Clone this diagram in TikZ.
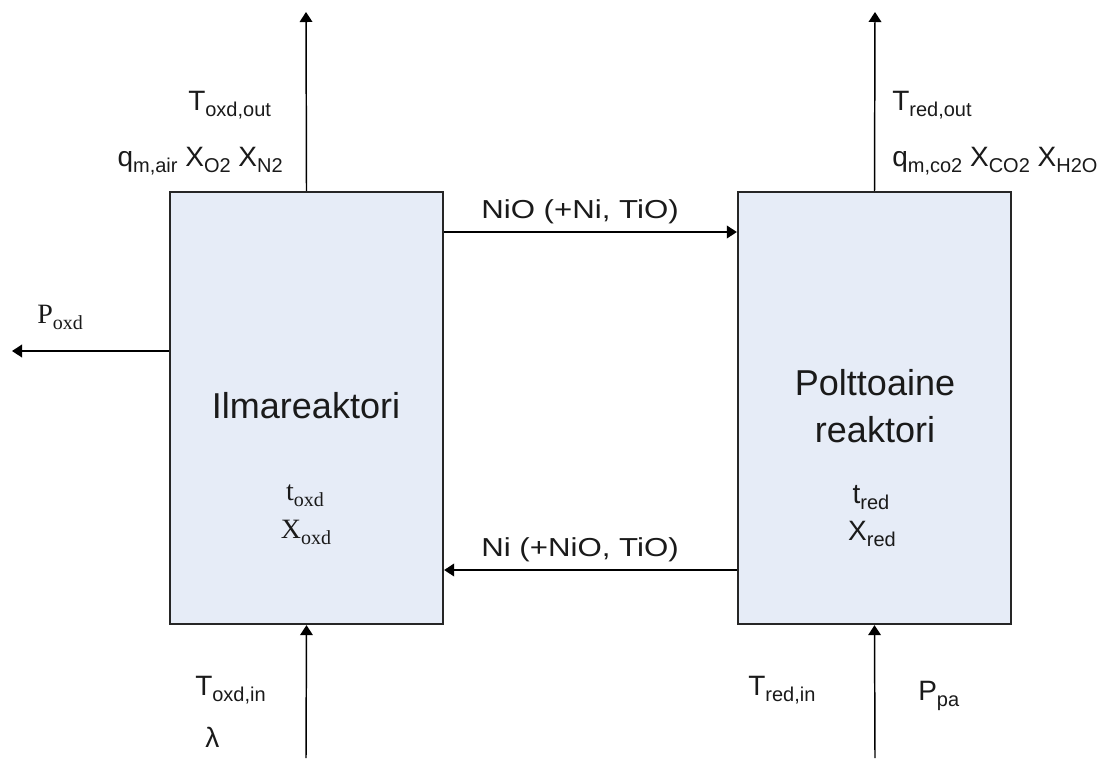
\documentclass[tikz,border=0pt]{standalone}
\usepackage{fontspec}
\usepackage{graphicx}
\setmainfont{Liberation Sans}
\newfontfamily\tms{Liberation Serif}
\usetikzlibrary{arrows.meta}
\definecolor{boxfill}{HTML}{E6ECF7}
\definecolor{boxline}{HTML}{262626}
\definecolor{ink}{HTML}{1A1A1A}
% lowered subscript
\newcommand\dsub[1]{\raisebox{-4.5pt}{\fontsize{15}{15}\selectfont #1}}
\tikzset{
  x=0.75pt, y=-0.75pt,
  reactor/.style={draw=boxline, line width=1.7pt, fill=boxfill,
    minimum width=204.75pt, minimum height=324pt, inner sep=0pt},
  flow/.style={line width=1.1pt, -{Triangle[length=7.5pt,width=9.5pt]}},
  lab/.style={inner sep=0pt, text=ink, font=\fontsize{21}{25}\selectfont},
  big/.style={inner sep=0pt, text=ink, font=\fontsize{27}{32}\selectfont},
  mid/.style={inner sep=0pt, text=ink, font=\fontsize{19.5}{23}\selectfont},
}
\begin{document}
\begin{tikzpicture}
\useasboundingbox (0,0) rectangle (1109,758);

% reactors
\node[reactor] (ox) at (306.5,408) {};
\node[reactor] (rd) at (874.5,408) {};

% free ends of the streams
\coordinate (oxtop) at (306,12);
\coordinate (rdtop) at (875,12);
\coordinate (oxbot) at (306,758);
\coordinate (rdbot) at (875,758);
\coordinate (pout) at (12,351);
\coordinate (ya) at (0,232);
\coordinate (yb) at (0,570);

% streams
\draw[flow] (ox.north) -- (oxtop);
\draw[flow] (rd.north) -- (rdtop);
\draw[flow] (oxbot) -- (ox.south);
\draw[flow] (rdbot) -- (rd.south);
\draw[flow] (ox.west |- pout) -- (pout);
\draw[flow] (ox.east |- ya) -- (rd.west |- ya);
\draw[flow] (rd.west |- yb) -- (ox.east |- yb);

% reactor names and states
\node[big, anchor=base] (n1) at (306,418) {Ilmareaktori};
\node[big, anchor=base] (n2) at (875,395) {Polttoaine};
\node[big, anchor=base] (n3) at (875,442) {reaktori};
\node[lab, anchor=base] (s1) at (305,500) {\tms t\dsub{oxd}};
\node[lab, anchor=base] (s2) at (306,538) {\tms X\dsub{oxd}};
\node[lab, anchor=base] (s3) at (871,503) {t\dsub{red}};
\node[lab, anchor=base] (s4) at (872,540) {X\dsub{red}};

% solid streams between the reactors
\node[mid, anchor=base] (f1) at (580,218) {\scalebox{1.2}[1]{NiO (+Ni, TiO)}};
\node[mid, anchor=base] (f2) at (580,556) {\scalebox{1.2}[1]{Ni (+NiO, TiO)}};

% gas outlets
\node[lab, anchor=base west] (o1) at (188,110) {T\dsub{oxd,out}};
\node[lab, anchor=base east] (o2) at (283,166) {q\dsub{m,air} X\dsub{O2} X\dsub{N2}};
\node[lab, anchor=base west] (o3) at (892,110) {T\dsub{red,out}};
\node[lab, anchor=base west] (o4) at (892,166) {q\dsub{m,co2} X\dsub{CO2} X\dsub{H2O}};

% heat output
\node[lab, anchor=base west] (p1) at (37,323) {\tms P\dsub{oxd}};

% inlets
\node[lab, anchor=base west] (i1) at (195,695) {T\dsub{oxd,in}};
\node[lab, anchor=base west] (i2) at (205,747) {λ};
\node[lab, anchor=base west] (i3) at (748,695) {T\dsub{red,in}};
\node[lab, anchor=base west] (i4) at (918,700) {P\dsub{pa}};
\end{tikzpicture}
\end{document}
